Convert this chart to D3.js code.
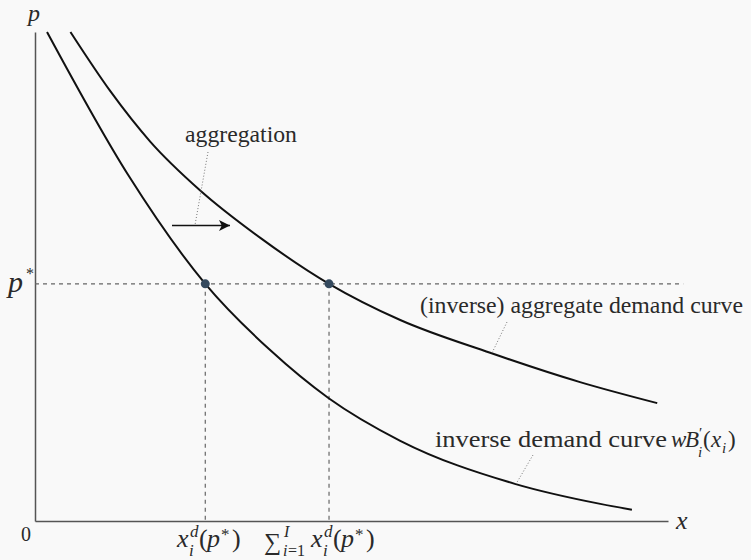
<!DOCTYPE html>
<html>
<head>
<meta charset="utf-8">
<script src="https://cdn.jsdelivr.net/npm/d3@7/dist/d3.min.js"></script>
<style>
  html, body { margin: 0; padding: 0; background: #f9f9f9; }
  svg { display: block; }
</style>
</head>
<body>
<svg id="chart" width="751" height="560"></svg>
<script>
// Individual inverse demand curve wB'_i(x_i): quantity x, price p
const individualX = [0.19, 1.47, 2.69, 3.71, 4.64, 5.77, 7.58, 8.93, 9.43];
const individualP = [10.0, 7.08, 4.85, 3.50, 2.51, 1.64, 0.76, 0.35, 0.23];

// (Inverse) aggregate demand curve: horizontal sum over consumers
const aggregateX = [0.56, 1.19, 1.82, 2.61, 3.56, 4.645, 5.77, 7.19, 8.61, 9.83];
const aggregateP = [10.0, 8.79, 7.76, 6.76, 5.79, 4.85, 4.11, 3.44, 2.84, 2.41];

// Equilibrium price and the quantities demanded at that price
const pStar = 4.85;
const individualAtPStar = 2.69;
const aggregateAtPStar = 4.645;

const SERIF = 'Tinos, "Liberation Serif", "Times New Roman", Times, "Nimbus Roman", "Nimbus Roman No9 L", FreeSerif, "DejaVu Serif", "Noto Serif", Georgia, serif';
const INK = "#2a2a2a";

const svg = d3.select("#chart");

const x = d3.scaleLinear().domain([0, 10]).range([35, 668]);
const y = d3.scaleLinear().domain([0, 10]).range([521, 32]);

// Axes: bare domain lines, no ticks
const axisColor = "#555";
svg.append("g")
  .attr("transform", `translate(0,${y(0)})`)
  .call(d3.axisBottom(x).tickValues([]).tickSizeOuter(0))
  .call(g => g.select(".domain").attr("stroke", axisColor).attr("stroke-width", 1.5));
svg.append("g")
  .attr("transform", `translate(${x(0)},0)`)
  .call(d3.axisLeft(y).tickValues([]).tickSizeOuter(0))
  .call(g => g.select(".domain").attr("stroke", axisColor).attr("stroke-width", 1.5));

// Guide lines at the equilibrium price
const dash = "4,4";
svg.append("line")
  .attr("x1", x(0)).attr("x2", x(10.24))
  .attr("y1", y(pStar)).attr("y2", y(pStar))
  .attr("stroke", "#666").attr("stroke-width", 1.2).attr("stroke-dasharray", dash);
[individualAtPStar, aggregateAtPStar].forEach(q => {
  svg.append("line")
    .attr("x1", x(q)).attr("x2", x(q))
    .attr("y1", y(pStar)).attr("y2", y(0))
    .attr("stroke", "#666").attr("stroke-width", 1.2).attr("stroke-dasharray", dash);
});

// Demand curves
const line = d3.line().x(d => x(d[0])).y(d => y(d[1])).curve(d3.curveMonotoneX);
[d3.zip(individualX, individualP), d3.zip(aggregateX, aggregateP)].forEach(pts => {
  svg.append("path")
    .attr("d", line(pts))
    .attr("fill", "none")
    .attr("stroke", "#111")
    .attr("stroke-width", 2);
});

// Equilibrium points
[individualAtPStar, aggregateAtPStar].forEach(q => {
  svg.append("circle")
    .attr("cx", x(q)).attr("cy", y(pStar)).attr("r", 4.5)
    .attr("fill", "#34495e");
});

// Aggregation arrow
svg.append("defs").append("marker")
  .attr("id", "head")
  .attr("viewBox", "0 0 10 10")
  .attr("refX", 10).attr("refY", 5)
  .attr("markerWidth", 14).attr("markerHeight", 11)
  .attr("markerUnits", "userSpaceOnUse")
  .attr("orient", "auto")
  .append("path").attr("d", "M0,0 L10,5 L0,10 L2.5,5 Z").attr("fill", "#111");
svg.append("line")
  .attr("x1", 172).attr("x2", 230).attr("y1", 225.5).attr("y2", 225.5)
  .attr("stroke", "#111").attr("stroke-width", 1.6)
  .attr("marker-end", "url(#head)");

// Dotted leaders from labels
const leaders = [
  [208, 152, 195, 225],
  [507, 322, 492, 353],
  [533, 455, 516, 484]
];
leaders.forEach(([x1, y1, x2, y2]) => {
  svg.append("line")
    .attr("x1", x1).attr("y1", y1).attr("x2", x2).attr("y2", y2)
    .attr("stroke", "#777").attr("stroke-width", 1).attr("stroke-dasharray", "1,2");
});

// Text helpers
function put(txt, px, py, size, italic, extra) {
  const t = svg.append("text")
    .attr("x", px).attr("y", py)
    .style("font-family", SERIF)
    .attr("font-size", size)
    .attr("font-style", italic ? "italic" : "normal")
    .attr("fill", INK)
    .text(txt);
  if (extra) extra(t);
  return t;
}
const fit = len => t => t.attr("textLength", len).attr("lengthAdjust", "spacingAndGlyphs");

put("aggregation", 185, 142, 23, false, fit(112));
put("(inverse) aggregate demand curve", 420, 313, 23, false, fit(323));
put("inverse demand curve", 435, 447, 23, false, fit(232));

// Axis names and origin
put("p", 28, 21, 24, true);
put("x", 676, 529, 26, true);
put("0", 26, 541, 20, false, t => t.attr("text-anchor", "middle"));
put("p", 8, 292, 30, true);
put("*", 26, 279, 16, false);

// wB'_i(x_i)
put("w", 671, 447, 23, true);
put("B", 685, 447, 23, true);
put("\u2032", 699, 438, 15, false);
put("i", 698, 457, 15, true);
put("(", 703, 447, 23, false);
put("x", 711, 447, 23, true);
put("i", 722, 453, 15, true);
put(")", 728, 447, 23, false);

// x_i^d(p*) and its sum over consumers
function demandLabel(px) {
  put("x", px, 547, 26, true);
  put("d", px + 13, 537, 17, true);
  put("i", px + 12, 556, 17, true);
  put("(", px + 22, 547, 26, false);
  put("p", px + 30, 547, 26, true);
  put("*", px + 44, 540, 17, false);
  put(")", px + 55, 547, 26, false);
}
demandLabel(177);
put("\u2211", 264, 550, 24, false);
put("I", 284, 537, 16, true);
put("i", 283, 556, 16, true);
put("=1", 288, 556, 16, false);
demandLabel(311);
</script>
</body>
</html>
